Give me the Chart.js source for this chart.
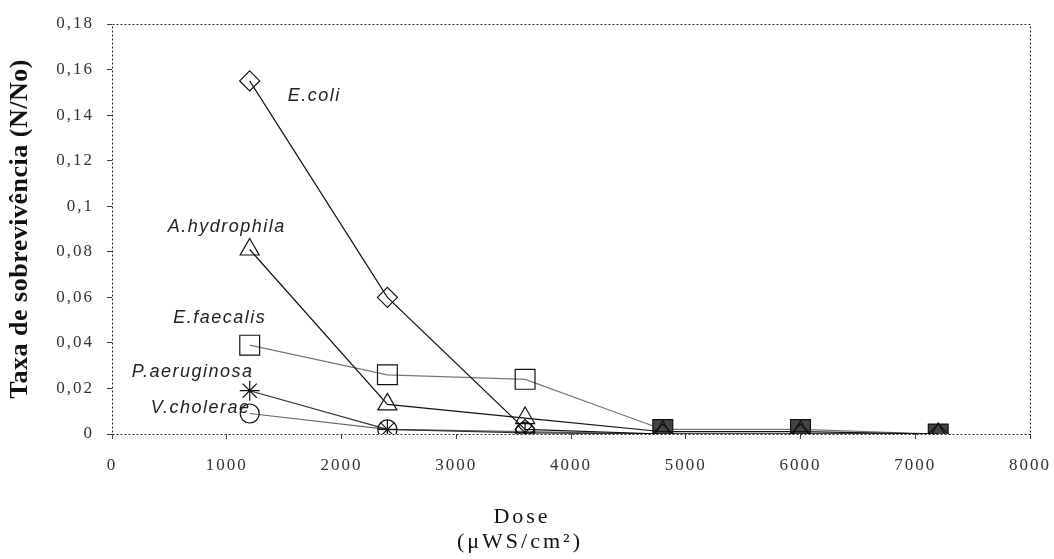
<!DOCTYPE html>
<html>
<head>
<meta charset="utf-8">
<script src="https://cdn.jsdelivr.net/npm/chart.js@4.4.1/dist/chart.umd.min.js"></script>
<style>
  body { margin: 0; background: #fff; }
  #wrap { width: 1054px; height: 559px; }
</style>
</head>
<body>
<div id="wrap"><canvas id="surviveChart" width="1054" height="559"></canvas></div>
<script>
// dose values (uWS/cm2)
const doses = [1200, 2400, 3600, 4800, 6000, 7200];

// survival rate N/No
const eColi = [0.155, 0.060, 0.002, 0, 0, 0];
const aHydrophila = [0.081, 0.013, 0.007, 0.001, 0.001, 0];
const eFaecalis = [0.039, 0.026, 0.024, 0.002, 0.002, 0];
const pAeruginosa = [0.019, 0.002, 0.0005, 0, 0, 0];
const vCholerae = [0.009, 0.002, 0.001, 0, 0, 0];

const seriesNames = ['E.coli', 'A.hydrophila', 'E.faecalis', 'P.aeruginosa', 'V.cholerae'];
const xTicks = [0, 1000, 2000, 3000, 4000, 5000, 6000, 7000, 8000];
const yTicks = [0, 0.02, 0.04, 0.06, 0.08, 0.1, 0.12, 0.14, 0.16, 0.18];

function toPoints(values) {
    return values.map((v, i) => ({ x: doses[i], y: v }));
}

function commaNum(v) {
    return String(Math.round(v * 100) / 100).replace('.', ',');
}

const serif = '"Liberation Serif", "Times New Roman", serif';

// pixel offsets of each species name from its first point
const nameOffsets = [[38, 15, 'left'], [-23, -23, 'center'], [-30, -27, 'center'], [-57, -19, 'center'], [-49, -6, 'center']];

const wideText = {
    id: 'wideText',
    beforeDraw(chart) {
        // the scanned tick labels are widely spaced
        chart.ctx.letterSpacing = '2px';
    },
    afterDatasetsDraw(chart) {
        const ctx = chart.ctx;
        const a = chart.chartArea;
        ctx.save();
        // dotted frame round the plot
        ctx.strokeStyle = '#222';
        ctx.lineWidth = 1;
        ctx.setLineDash([2, 2]);
        ctx.strokeRect(a.left + 0.5, a.top + 0.5, a.right - a.left, a.bottom - a.top);
        ctx.setLineDash([]);

        // species names next to the first point
        ctx.letterSpacing = '1.5px';
        ctx.font = 'italic 18px "Liberation Sans", Arial, sans-serif';
        ctx.fillStyle = '#222';
        ctx.textBaseline = 'middle';
        chart.data.datasets.forEach((ds, i) => {
            const pt = chart.getDatasetMeta(i).data[0];
            const off = nameOffsets[i];
            ctx.textAlign = off[2];
            ctx.fillText(seriesNames[i], pt.x + off[0], pt.y + off[1]);
        });

        // x axis title, two lines
        ctx.letterSpacing = '3px';
        ctx.font = '22px ' + serif;
        ctx.textAlign = 'center';
        ctx.fillStyle = '#111';
        ctx.fillText('Dose', 522, 517);
        ctx.fillText('(\u03bcWS/cm\u00b2)', 520, 542);

        // y axis title
        ctx.letterSpacing = '0.5px';
        ctx.font = 'bold 26px ' + serif;
        ctx.translate(20, (a.top + a.bottom) / 2);
        ctx.rotate(-Math.PI / 2);
        ctx.fillText('Taxa de sobrevivência (N/No)', 0, 0);
        ctx.restore();
    }
};

const lineColors = ['#111', '#111', '#777', '#333', '#666'];
const markers = ['rectRot', 'triangle', 'rect', 'star', 'circle'];
const markerSizes = [10, 11, 14, 10, 9.5];
const allSeries = [eColi, aHydrophila, eFaecalis, pAeruginosa, vCholerae];

const ctx = document.getElementById('surviveChart').getContext('2d');
window.surviveChart = new Chart(ctx, {
    type: 'line',
    data: {
        datasets: allSeries.map((vals, i) => ({
            label: seriesNames[i],
            data: toPoints(vals),
            borderColor: lineColors[i],
            borderWidth: 1.2,
            pointStyle: markers[i],
            pointRadius: markerSizes[i],
            pointBorderColor: '#111',
            pointBorderWidth: 1.2,
            // squares at the high doses look filled where all markers pile up
            pointBackgroundColor: (c) => (i === 2 && c.dataIndex >= 3) ? '#444' : 'rgba(0,0,0,0)',
            fill: false,
            tension: 0
        }))
    },
    options: {
        responsive: false,
        animation: false,
        devicePixelRatio: 1,
        layout: { padding: { top: 24, right: 24, left: 0, bottom: 0 } },
        plugins: {
            legend: { display: false },
            tooltip: { enabled: false }
        },
        scales: {
            x: {
                type: 'linear',
                min: 0,
                max: 8000,
                afterBuildTicks: (scale) => { scale.ticks = xTicks.map(v => ({ value: v })); },
                afterFit: (scale) => {
                    scale.height = 125;
                    scale.paddingLeft = 0;
                    scale.paddingRight = 0;
                },
                grid: { drawOnChartArea: false, tickLength: 5, color: '#444' },
                border: { display: false },
                ticks: {
                    padding: 16,
                    color: '#333',
                    font: { family: serif, size: 17 },
                    callback: (v) => String(v),
                    maxRotation: 0
                }
            },
            y: {
                min: 0,
                max: 0.18,
                afterBuildTicks: (scale) => { scale.ticks = yTicks.map(v => ({ value: v })); },
                afterFit: (scale) => {
                    scale.width = 112;
                    scale.paddingTop = 0;
                    scale.paddingBottom = 0;
                },
                grid: { drawOnChartArea: false, tickLength: 5, color: '#444' },
                border: { display: false },
                ticks: {
                    padding: 13,
                    color: '#333',
                    font: { family: serif, size: 17 },
                    callback: (v) => commaNum(v)
                }
            }
        }
    },
    plugins: [wideText]
});
</script>
</body>
</html>
